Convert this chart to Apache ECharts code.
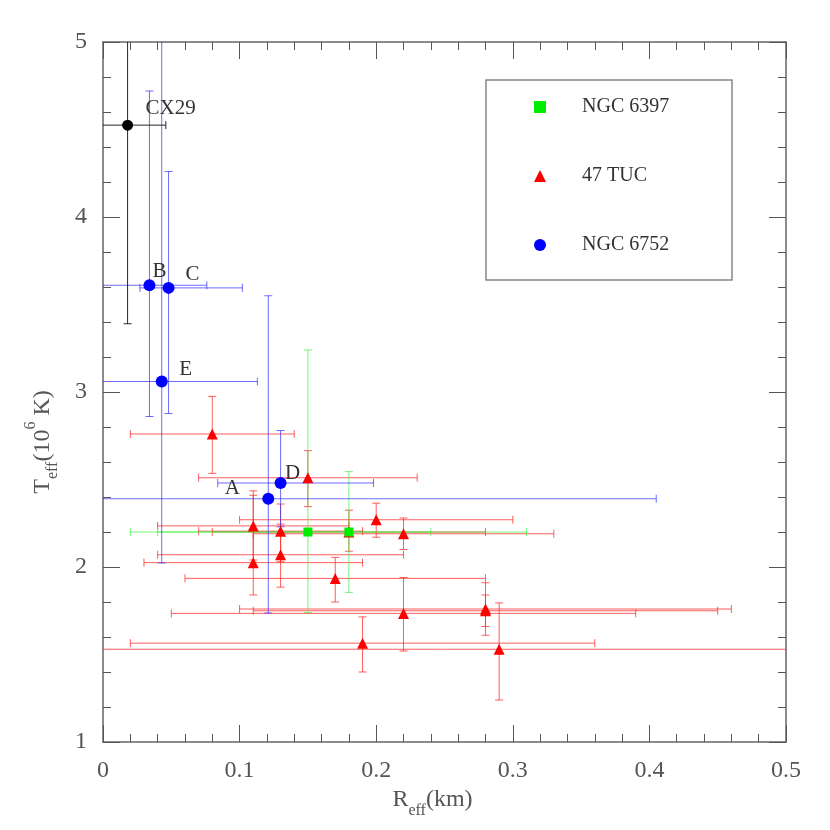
<!DOCTYPE html>
<html>
<head>
<meta charset="utf-8">
<script src="https://cdn.jsdelivr.net/npm/echarts@6/dist/echarts.min.js"></script>
<style>
  html, body { margin: 0; padding: 0; background: #fff; }
  #chart { width: 830px; height: 830px; }
</style>
</head>
<body>
<div id="chart"></div>
<script>
// NGC 6397
const ngc6397R   = [0.15, 0.18];
const ngc6397T   = [2.2, 2.2];
const ngc6397Rlo = [0.02, 0.04];
const ngc6397Rhi = [0.24, 0.31];
const ngc6397Tlo = [1.74, 1.855];
const ngc6397Thi = [3.24, 2.545];

// 47 TUC
const tucR   = [0.08, 0.15, 0.11, 0.11, 0.13, 0.13, 0.20, 0.22, 0.18, 0.17, 0.28, 0.28, 0.22, 0.19, 0.29];
const tucT   = [2.76, 2.51, 2.235, 2.025, 2.205, 2.07, 2.27, 2.19, 2.2, 1.935, 1.76, 1.75, 1.735, 1.565, 1.53];
const tucRlo = [0.02, 0.07, 0.04, 0.03, 0.07, 0.04, 0.10, 0.11, 0.08, 0.06, 0.10, 0.11, 0.05, 0.02, -0.02];
const tucRhi = [0.14, 0.23, 0.18, 0.19, 0.19, 0.22, 0.30, 0.33, 0.28, 0.28, 0.46, 0.45, 0.39, 0.36, 0.60];
const tucTlo = [2.535, 2.345, 2.04, 1.84, 2.03, 1.885, 2.17, 2.10, 2.09, 1.80, 1.61, 1.66, 1.52, 1.40, 1.24];
const tucThi = [2.975, 2.665, 2.435, 2.41, 2.36, 2.245, 2.365, 2.28, 2.325, 2.055, 1.91, 1.84, 1.94, 1.715, 1.795];

// NGC 6752
const ngc6752Names = ['A', 'B', 'C', 'D', 'E'];
const ngc6752R   = [0.121, 0.034, 0.048, 0.13, 0.043];
const ngc6752T   = [2.39, 3.61, 3.595, 2.48, 3.06];
const ngc6752Rlo = [-0.16, -0.008, 0.027, 0.084, -0.028];
const ngc6752Rhi = [0.405, 0.076, 0.102, 0.198, 0.113];
const ngc6752Tlo = [1.737, 2.86, 2.877, 2.23, 2.023];
const ngc6752Thi = [3.55, 4.72, 4.26, 2.78, 5.2];

// CX29
const cxNames = ['CX29'];
const cxR   = [0.018];
const cxT   = [4.525];
const cxRlo = [-0.01];
const cxRhi = [0.046];
const cxTlo = [3.39];
const cxThi = [5.66];

// label offsets (px) from the point
const labelOffset = {
  A: [-36, -10], B: [10, -14], C: [24, -13], D: [12, -10], E: [24, -12], CX29: [43, -17]
};

const serif = 'Liberation Serif';

function rows(r, t, rlo, rhi, tlo, thi) {
  return r.map((v, i) => [v, t[i], rlo[i], rhi[i], tlo[i], thi[i]]);
}

function errorBar(color) {
  return function (params, api) {
    const x = api.value(0), y = api.value(1);
    const p = api.coord([x, y]);
    const l = api.coord([api.value(2), y])[0];
    const r = api.coord([api.value(3), y])[0];
    const b = api.coord([x, api.value(4)])[1];
    const t = api.coord([x, api.value(5)])[1];
    const cap = 4;
    const style = { stroke: color, lineWidth: 1 };
    const seg = (x1, y1, x2, y2) => ({ type: 'line', shape: { x1, y1, x2, y2 }, style });
    return {
      type: 'group',
      children: [
        seg(l, p[1], r, p[1]), seg(l, p[1] - cap, l, p[1] + cap), seg(r, p[1] - cap, r, p[1] + cap),
        seg(p[0], b, p[0], t), seg(p[0] - cap, b, p[0] + cap, b), seg(p[0] - cap, t, p[0] + cap, t)
      ]
    };
  };
}

function errSeries(data, color) {
  return {
    type: 'custom',
    clip: true,
    renderItem: errorBar(color),
    encode: { x: 0, y: 1 },
    data: data,
    silent: true,
    z: 2
  };
}

function labelled(names, r, t) {
  return names.map((n, i) => ({
    name: n,
    value: [r[i], t[i]],
    label: {
      show: true,
      position: 'inside',
      offset: labelOffset[n],
      formatter: n,
      color: '#333',
      fontFamily: serif,
      fontSize: 21
    }
  }));
}

// major ticks (with axis line) and minor ticks drawn by a second, bare axis
function frameAxis(extra, tickLen, showLine) {
  return Object.assign({
    type: 'value',
    axisLine: { show: showLine, onZero: false, lineStyle: { color: '#666', width: 1.5 } },
    axisTick: { show: true, inside: true, length: tickLen, lineStyle: { color: '#555' } },
    axisLabel: { show: false },
    splitLine: { show: false }
  }, extra);
}

const xRange = { min: 0, max: 0.5 };
const yRange = { min: 1, max: 5 };

const chart = echarts.init(document.getElementById('chart'));
chart.setOption({
  backgroundColor: '#fff',
  animation: false,
  grid: { left: 103, right: 44, top: 42, bottom: 88 },
  xAxis: [
    frameAxis(Object.assign({
      position: 'bottom', interval: 0.1,
      axisLabel: { show: true, color: '#555', fontFamily: serif, fontSize: 24, margin: 17 },
      name: '{a|R}{s|eff}{a|(km)}',
      nameLocation: 'middle',
      nameGap: 44,
      nameTextStyle: {
        padding: [0, 24, 0, 0],
        rich: {
          a: { fontFamily: serif, fontSize: 24, color: '#555', verticalAlign: 'bottom', padding: [0, 0, 7, 0] },
          s: { fontFamily: serif, fontSize: 16, color: '#555', verticalAlign: 'bottom' }
        }
      }
    }, xRange), 17, true),
    frameAxis(Object.assign({ position: 'top', interval: 0.1 }, xRange), 17, true),
    frameAxis(Object.assign({ position: 'bottom', interval: 0.02 }, xRange), 8, false),
    frameAxis(Object.assign({ position: 'top', interval: 0.02 }, xRange), 8, false)
  ],
  yAxis: [
    frameAxis(Object.assign({
      position: 'left', interval: 1,
      axisLabel: { show: true, color: '#555', fontFamily: serif, fontSize: 24, margin: 16 },
      name: '{a|T}{s|eff}{a|(10}{p|6}{a| K)}',
      nameLocation: 'middle',
      nameRotate: 90,
      nameGap: 42,
      nameTextStyle: {
        padding: [0, 100, 0, 0],
        rich: {
          a: { fontFamily: serif, fontSize: 24, color: '#555', verticalAlign: 'top', padding: [8, 0, 0, 0] },
          s: { fontFamily: serif, fontSize: 16, color: '#555', verticalAlign: 'top', padding: [22, 0, 0, 0] },
          p: { fontFamily: serif, fontSize: 16, color: '#555', verticalAlign: 'top', padding: [0, 0, 0, 0] }
        }
      }
    }, yRange), 17, true),
    frameAxis(Object.assign({ position: 'right', interval: 1 }, yRange), 17, true),
    frameAxis(Object.assign({ position: 'left', interval: 0.2 }, yRange), 8, false),
    frameAxis(Object.assign({ position: 'right', interval: 0.2 }, yRange), 8, false)
  ],
  legend: {
    data: [
      { name: 'NGC 6397', icon: 'rect' },
      { name: '47 TUC', icon: 'triangle' },
      { name: 'NGC 6752', icon: 'circle' }
    ],
    orient: 'vertical',
    left: 534,
    top: 97,
    padding: 0,
    itemWidth: 12,
    itemHeight: 12,
    itemGap: 49,
    selectedMode: false,
    textStyle: { color: '#333', fontFamily: serif, fontSize: 20, lineHeight: 20, padding: [0, 0, 0, 31] }
  },
  graphic: [{
    type: 'rect',
    shape: { x: 486, y: 80, width: 246, height: 200 },
    style: { fill: 'none', stroke: '#888', lineWidth: 1.5 },
    z: 10
  }],
  series: [
    errSeries(rows(tucR, tucT, tucRlo, tucRhi, tucTlo, tucThi), 'rgba(255,40,40,0.75)'),
    errSeries(rows(ngc6397R, ngc6397T, ngc6397Rlo, ngc6397Rhi, ngc6397Tlo, ngc6397Thi), 'rgba(60,240,60,0.7)'),
    errSeries(rows(ngc6752R, ngc6752T, ngc6752Rlo, ngc6752Rhi, ngc6752Tlo, ngc6752Thi), 'rgba(50,50,255,0.72)'),
    errSeries(rows(cxR, cxT, cxRlo, cxRhi, cxTlo, cxThi), 'rgba(0,0,0,0.85)'),
    {
      name: '47 TUC', type: 'scatter', symbol: 'triangle', symbolSize: 11,
      itemStyle: { color: '#ff0000', opacity: 1 }, z: 5,
      data: tucR.map((v, i) => [v, tucT[i]])
    },
    {
      name: 'NGC 6397', type: 'scatter', symbol: 'rect', symbolSize: 9,
      itemStyle: { color: '#00ee00', opacity: 1 }, z: 6,
      data: ngc6397R.map((v, i) => [v, ngc6397T[i]])
    },
    {
      name: 'NGC 6752', type: 'scatter', symbol: 'circle', symbolSize: 12,
      itemStyle: { color: '#0000ff', opacity: 1 }, z: 6,
      data: labelled(ngc6752Names, ngc6752R, ngc6752T)
    },
    {
      name: 'CX29', type: 'scatter', symbol: 'circle', symbolSize: 11,
      itemStyle: { color: '#000', opacity: 1 }, z: 6,
      data: labelled(cxNames, cxR, cxT)
    }
  ]
});
</script>
</body>
</html>
